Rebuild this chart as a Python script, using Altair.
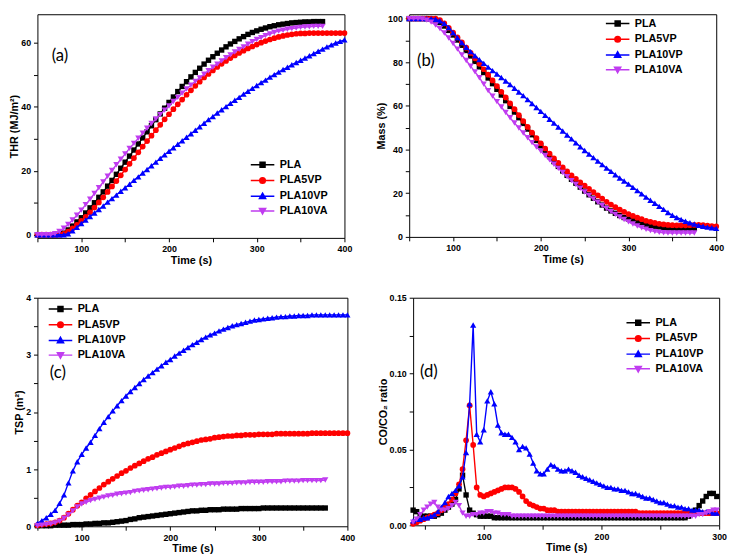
import altair as alt
import pandas as pd

SERIES = ["PLA", "PLA5VP", "PLA10VP", "PLA10VA"]
COLORS = ["#000000", "#FF0000", "#0000FF", "#C03CF0"]
SHAPES = ["square", "circle", "triangle-up", "triangle-down"]
SIZES = [30, 34, 40, 40]
LINE = "M-4,0L4,0"
LEG_PATHS = [
    LINE + "M-0.85,-0.85L0.85,-0.85L0.85,0.85L-0.85,0.85Z",
    LINE + "M-0.95,0A0.95,0.95 0 1,0 0.95,0A0.95,0.95 0 1,0 -0.95,0Z",
    LINE + "M0,-1.05L1.05,0.8L-1.05,0.8Z",
    LINE + "M0,1.05L1.05,-0.8L-1.05,-0.8Z",
]
FONT = "Liberation Sans"

# ---------------- (a) THR, t = 50, 55, ... ----------------
thr_pla = [0, 0, 0, 0, 0, 0.1, 0.5, 1.5, 2.7, 4.0,
           5.3, 6.8, 8.4, 10.0, 11.7, 13.4, 15.2, 17.0, 18.9, 20.8,
           22.7, 24.6, 26.5, 28.4, 30.3, 32.2, 34.1, 36.0, 37.8, 39.6,
           41.4, 43.1, 44.8, 46.4, 47.9, 49.4, 50.8, 52.1, 53.4, 54.6,
           55.7, 56.8, 57.8, 58.8, 59.7, 60.5, 61.3, 62.0, 62.7, 63.3,
           63.8, 64.3, 64.7, 65.1, 65.4, 65.7, 65.9, 66.1, 66.3, 66.4,
           66.5, 66.6, 66.6, 66.7, 66.7, 66.7]
thr_5vp = [0, 0, 0, 0, 0, 0, 0.3, 1.0, 2.0, 3.1,
           4.3, 5.6, 7.0, 8.5, 10.1, 11.7, 13.4, 15.1, 16.8, 18.6,
           20.4, 22.2, 24.0, 25.8, 27.6, 29.3, 31.0, 32.7, 34.4, 36.1,
           37.7, 39.3, 40.8, 42.3, 43.8, 45.2, 46.6, 47.9, 49.2, 50.3,
           51.4, 52.5, 53.5, 54.4, 55.3, 56.1, 56.9, 57.6, 58.3, 58.9,
           59.5, 60.1, 60.6, 61.1, 61.5, 61.9, 62.2, 62.5, 62.7, 62.9,
           63.0, 63.0, 63.1, 63.1, 63.1, 63.1, 63.1, 63.1, 63.1, 63.1, 63.1]
thr_10vp = [0, 0, 0, 0, 0, 0, 0, 0.3, 1.2, 2.3,
            3.5, 4.6, 5.7, 6.8, 7.9, 9.0, 10.2, 11.3, 12.4, 13.6,
            14.7, 15.8, 17.0, 18.1, 19.3, 20.4, 21.6, 22.7, 23.9, 25.0,
            26.1, 27.2, 28.3, 29.4, 30.5, 31.6, 32.7, 33.8, 34.9, 36.0,
            37.0, 38.1, 39.1, 40.1, 41.1, 42.1, 43.0, 44.0, 44.9, 45.8,
            46.7, 47.6, 48.4, 49.3, 50.1, 50.9, 51.7, 52.4, 53.2, 53.9,
            54.6, 55.3, 56.0, 56.7, 57.4, 58.1, 58.8, 59.4, 60.0, 60.5, 61.0]
thr_10va = [0, 0, 0, 0, 0.3, 1.0, 2.0, 3.2, 4.6, 6.1,
            7.7, 9.4, 11.1, 12.9, 14.7, 16.5, 18.3, 20.1, 21.9, 23.6,
            25.3, 27.0, 28.6, 30.2, 31.8, 33.3, 34.8, 36.2, 37.6, 39.0,
            40.3, 41.7, 43.0, 44.3, 45.6, 46.8, 48.0, 49.1, 50.2, 51.3,
            52.4, 53.4, 54.4, 55.4, 56.3, 57.2, 58.0, 58.8, 59.6, 60.4,
            61.1, 61.7, 62.3, 62.8, 63.3, 63.7, 64.0, 64.3, 64.5, 64.7,
            64.9, 65.0, 65.1, 65.2, 65.2, 65.2]

# ---------------- (b) Mass, t = 50, 55, ... ----------------
mass_pla = [100, 100, 100, 100, 100, 99.8, 99.3, 98.2, 96.6, 94.6,
            92.5, 90.2, 87.8, 85.4, 82.9, 80.4, 77.9, 75.3, 72.8, 70.2,
            67.6, 65.0, 62.4, 59.8, 57.2, 54.6, 52.0, 49.4, 46.8, 44.2,
            41.7, 39.2, 36.8, 34.5, 32.3, 30.2, 28.2, 26.4, 24.6, 22.8,
            21.0, 19.3, 17.7, 16.1, 14.6, 13.2, 11.9, 10.8, 9.8, 8.9,
            8.2, 7.5, 6.9, 6.3, 5.8, 5.3, 4.9, 4.6, 4.3, 4.1,
            4.0, 3.9, 3.9, 3.9, 3.9, 3.9]
mass_5vp = [100, 100, 100, 100, 100, 100, 100, 99.3, 97.8, 95.8,
            93.6, 91.4, 89.1, 86.7, 84.3, 81.8, 79.3, 76.8, 74.3, 71.7,
            69.1, 66.5, 63.9, 61.2, 58.5, 55.8, 53.1, 50.4, 47.8, 45.3,
            42.9, 40.5, 38.2, 36.0, 33.9, 31.9, 30.0, 28.2, 26.6, 25.0,
            23.5, 22.0, 20.5, 19.0, 17.5, 16.1, 14.8, 13.6, 12.5, 11.5,
            10.5, 9.6, 8.8, 8.1, 7.4, 6.9, 6.4, 6.0, 5.7, 5.5,
            5.4, 5.3, 5.3, 5.3, 5.4, 5.5, 5.5, 5.4, 5.2, 5.0, 4.8]
mass_10vp = [100, 100, 100, 100, 100, 100, 99.7, 99.0, 97.8, 95.9,
             93.6, 91.3, 89.0, 86.9, 84.9, 83.0, 81.2, 79.5, 77.8, 76.2,
             74.6, 73.0, 71.4, 69.8, 68.1, 66.4, 64.7, 62.9, 61.1, 59.3,
             57.5, 55.7, 53.9, 52.1, 50.3, 48.5, 46.7, 44.9, 43.1, 41.3,
             39.6, 37.9, 36.3, 34.7, 33.1, 31.5, 30.0, 28.5, 27.0, 25.6,
             24.2, 22.7, 21.2, 19.7, 18.2, 16.8, 15.4, 14.0, 12.6, 11.2,
             9.9, 8.9, 8.0, 7.2, 6.5, 5.9, 5.3, 4.9, 4.5, 4.2, 3.9]
mass_10va = [100, 100, 100, 99.8, 99.3, 98.4, 97.1, 95.4, 93.4, 91.1,
             88.6, 86.0, 83.4, 80.8, 78.2, 75.6, 72.9, 70.0, 67.0, 64.5,
             62.0, 59.5, 57.0, 54.6, 52.2, 49.9, 47.6, 45.4, 43.2, 41.2,
             39.3, 37.3, 35.3, 33.3, 31.4, 29.5, 27.6, 25.8, 24.0, 22.3,
             20.6, 19.0, 17.4, 15.9, 14.4, 13.0, 11.6, 10.3, 9.1, 8.0,
             6.9, 5.9, 5.0, 4.2, 3.5, 2.9, 2.4, 2.1, 1.9, 1.8,
             1.8, 1.8, 1.8, 1.8, 1.8, 1.8]

# ---------------- (c) TSP, t = 50, 55, ... ----------------
tsp_pla = [0.01, 0.01, 0.01, 0.01, 0.02, 0.02, 0.02, 0.02, 0.03, 0.03,
           0.03, 0.04, 0.04, 0.05, 0.05, 0.06, 0.06, 0.07, 0.08, 0.09,
           0.10, 0.12, 0.13, 0.15, 0.16, 0.17, 0.18, 0.19, 0.20, 0.21,
           0.22, 0.23, 0.24, 0.25, 0.26, 0.27, 0.27, 0.28, 0.28, 0.29,
           0.29, 0.29, 0.30, 0.30, 0.30, 0.30, 0.31, 0.31, 0.31, 0.31,
           0.31, 0.32, 0.32, 0.32, 0.32, 0.32, 0.32, 0.32, 0.32, 0.32,
           0.32, 0.32, 0.32, 0.32, 0.32, 0.32]
tsp_5vp = [0.02, 0.03, 0.04, 0.05, 0.07, 0.10, 0.15, 0.22, 0.29, 0.36,
           0.42, 0.49, 0.55, 0.61, 0.67, 0.73, 0.78, 0.83, 0.88, 0.93,
           0.97, 1.02, 1.06, 1.10, 1.14, 1.18, 1.21, 1.25, 1.28, 1.31,
           1.34, 1.37, 1.40, 1.43, 1.45, 1.47, 1.49, 1.51, 1.52, 1.53,
           1.55, 1.56, 1.57, 1.58, 1.58, 1.59, 1.59, 1.60, 1.60, 1.60,
           1.61, 1.61, 1.61, 1.61, 1.62, 1.62, 1.62, 1.62, 1.62, 1.62,
           1.62, 1.62, 1.63, 1.63, 1.63, 1.63, 1.63, 1.63, 1.63, 1.63, 1.63]
tsp_10vp = [0.05, 0.10, 0.15, 0.21, 0.28, 0.40, 0.55, 0.76, 0.97, 1.13,
            1.26, 1.37, 1.47, 1.59, 1.71, 1.82, 1.92, 2.02, 2.11, 2.20,
            2.28, 2.36, 2.43, 2.50, 2.57, 2.63, 2.69, 2.75, 2.81, 2.87,
            2.92, 2.98, 3.03, 3.08, 3.13, 3.18, 3.22, 3.27, 3.31, 3.35,
            3.38, 3.42, 3.45, 3.48, 3.51, 3.53, 3.55, 3.57, 3.59, 3.61,
            3.62, 3.63, 3.64, 3.65, 3.66, 3.67, 3.67, 3.68, 3.68, 3.69,
            3.69, 3.69, 3.70, 3.70, 3.70, 3.70, 3.70, 3.70, 3.70, 3.70, 3.70]
tsp_10va = [0.01, 0.02, 0.03, 0.04, 0.06, 0.09, 0.14, 0.20, 0.27, 0.34,
            0.39, 0.42, 0.45, 0.47, 0.49, 0.51, 0.53, 0.54, 0.56, 0.57,
            0.58, 0.59, 0.61, 0.62, 0.63, 0.64, 0.65, 0.66, 0.67, 0.68,
            0.68, 0.69, 0.70, 0.70, 0.71, 0.72, 0.72, 0.73, 0.73, 0.74,
            0.74, 0.74, 0.75, 0.75, 0.75, 0.76, 0.76, 0.76, 0.77, 0.77,
            0.77, 0.77, 0.78, 0.78, 0.78, 0.78, 0.79, 0.79, 0.79, 0.79,
            0.80, 0.80, 0.80, 0.80, 0.80, 0.81]

# ---------------- (d) CO/CO2 ratio, t = 40, 43, ... ----------------
co_pla = [0.010, 0.009, 0.007, 0.006, 0.006, 0.006, 0.006, 0.007, 0.008, 0.010,
          0.012, 0.014, 0.017, 0.024, 0.033, 0.020, 0.010, 0.008, 0.007, 0.006,
          0.006, 0.006, 0.006, 0.005, 0.005, 0.005, 0.005, 0.005, 0.005, 0.005,
          0.005, 0.005, 0.005, 0.005, 0.005, 0.005, 0.005, 0.005, 0.005, 0.005,
          0.005, 0.005, 0.005, 0.005, 0.005, 0.005, 0.005, 0.005, 0.005, 0.005,
          0.005, 0.005, 0.005, 0.005, 0.005, 0.005, 0.005, 0.005, 0.005, 0.005,
          0.005, 0.005, 0.005, 0.005, 0.005, 0.005, 0.005, 0.005, 0.005, 0.005,
          0.005, 0.005, 0.005, 0.005, 0.005, 0.005, 0.005, 0.005, 0.006, 0.008,
          0.010, 0.013, 0.016, 0.019, 0.021, 0.021, 0.019]
co_5vp = [0.001, 0.002, 0.003, 0.004, 0.005, 0.006, 0.007, 0.008, 0.010, 0.012,
          0.014, 0.017, 0.021, 0.027, 0.037, 0.056, 0.079, 0.053, 0.025, 0.020,
          0.019, 0.020, 0.021, 0.022, 0.023, 0.024, 0.025, 0.025, 0.025, 0.024,
          0.022, 0.019, 0.016, 0.014, 0.013, 0.012, 0.011, 0.011, 0.010, 0.010,
          0.010, 0.009, 0.009, 0.009, 0.009, 0.009, 0.009, 0.009, 0.009, 0.009,
          0.009, 0.009, 0.009, 0.009, 0.009, 0.009, 0.009, 0.009, 0.009, 0.009,
          0.009, 0.009, 0.009, 0.009, 0.008, 0.008, 0.008, 0.008, 0.008, 0.008,
          0.008, 0.008, 0.008, 0.008, 0.008, 0.008, 0.008, 0.008, 0.008, 0.008,
          0.008, 0.008, 0.008, 0.008, 0.008, 0.008, 0.008]
co_10vp = [0.003, 0.004, 0.004, 0.005, 0.005, 0.006, 0.007, 0.009, 0.012, 0.015,
           0.019, 0.021, 0.023, 0.026, 0.032, 0.048, 0.080, 0.132, 0.060, 0.055,
           0.063, 0.082, 0.088, 0.080, 0.066, 0.061, 0.060, 0.060, 0.058, 0.055,
           0.050, 0.052, 0.051, 0.047, 0.041, 0.036, 0.034, 0.034, 0.037, 0.040,
           0.039, 0.037, 0.036, 0.036, 0.037, 0.036, 0.035, 0.033, 0.032, 0.031,
           0.030, 0.029, 0.028, 0.027, 0.026, 0.025, 0.025, 0.024, 0.024, 0.023,
           0.023, 0.022, 0.021, 0.021, 0.020, 0.019, 0.018, 0.018, 0.017, 0.016,
           0.015, 0.015, 0.014, 0.013, 0.013, 0.012, 0.012, 0.011, 0.011, 0.010,
           0.010, 0.010, 0.009, 0.009, 0.009, 0.008, 0.008]
co_10va = [0.002, 0.004, 0.007, 0.010, 0.012, 0.014, 0.015, 0.012, 0.010, 0.010,
           0.011, 0.013, 0.015, 0.013, 0.008, 0.006, 0.006, 0.007, 0.007, 0.008,
           0.008, 0.009, 0.009, 0.008, 0.008, 0.007, 0.007, 0.007, 0.006, 0.006,
           0.006, 0.006, 0.006, 0.006, 0.006, 0.006, 0.006, 0.006, 0.006, 0.006,
           0.006, 0.006, 0.006, 0.006, 0.006, 0.006, 0.006, 0.006, 0.006, 0.006,
           0.006, 0.006, 0.006, 0.006, 0.006, 0.006, 0.006, 0.006, 0.006, 0.006,
           0.006, 0.006, 0.006, 0.006, 0.006, 0.006, 0.006, 0.006, 0.006, 0.006,
           0.006, 0.006, 0.006, 0.006, 0.006, 0.006, 0.006, 0.006, 0.006, 0.006,
           0.006, 0.007, 0.007, 0.008, 0.009, 0.010, 0.010]


def long_table(start, step, arrays):
    rows = []
    for name, vals in zip(SERIES, arrays):
        for i, v in enumerate(vals):
            rows.append({"t": start + i * step, "v": v, "series": name})
    return pd.DataFrame(rows)


def panel(df, xdom, xticks, ydom, yticks, ylabel_expr, ytitle, w, h,
          tag, tag_t, tag_v, leg_x, leg_y):
    xax = alt.Axis(title="Time (s)", values=xticks,
                   labelExpr="datum.value % 100 == 0 ? datum.label : ''")
    yax = alt.Axis(title=ytitle, values=yticks, labelExpr=ylabel_expr)
    x = alt.X("t:Q", scale=alt.Scale(domain=xdom, nice=False, zero=False), axis=xax)
    y = alt.Y("v:Q", scale=alt.Scale(domain=ydom, nice=False, zero=False), axis=yax)
    base = alt.Chart(df)
    layers = []
    for s, c, sh, sz in zip(SERIES, COLORS, SHAPES, SIZES):
        sub = base.transform_filter(alt.datum.series == s)
        layers.append(sub.mark_line(color=c, strokeWidth=1.4).encode(x=x, y=y))
        layers.append(sub.mark_point(shape=sh, filled=True, color=c, size=sz,
                                     opacity=1).encode(x=x, y=y))
    leg = alt.Legend(title=None, orient="none", legendX=leg_x, legendY=leg_y,
                     labelFont=FONT, labelFontSize=11, labelFontWeight="bold",
                     labelColor="black", symbolSize=36, symbolStrokeWidth=1.5,
                     symbolOpacity=1, labelOffset=12, rowPadding=3, padding=0)
    legdf = pd.DataFrame({"leg": SERIES})
    layers.append(
        alt.Chart(legdf).mark_point(filled=True, size=0, strokeWidth=1.5, opacity=1).encode(
            shape=alt.Shape("leg:N", scale=alt.Scale(domain=SERIES, range=LEG_PATHS), legend=leg),
            fill=alt.Fill("leg:N", scale=alt.Scale(domain=SERIES, range=COLORS), legend=leg),
            stroke=alt.Stroke("leg:N", scale=alt.Scale(domain=SERIES, range=COLORS), legend=leg),
        )
    )
    tagdf = pd.DataFrame({"t": [tag_t], "v": [tag_v], "lab": [tag]})
    layers.append(
        alt.Chart(tagdf).mark_text(font="Lato", fontSize=17, color="black").encode(
            x=x, y=y, text="lab:N")
    )
    return alt.layer(*layers).properties(width=w, height=h)


tA = long_table(50, 5, [thr_pla, thr_5vp, thr_10vp, thr_10va])
tB = long_table(50, 5, [mass_pla, mass_5vp, mass_10vp, mass_10va])
tC = long_table(50, 5, [tsp_pla, tsp_5vp, tsp_10vp, tsp_10va])
tD = long_table(40, 3, [co_pla, co_5vp, co_10vp, co_10va])

xt = [50, 100, 150, 200, 250, 300, 350, 400]
pa = panel(tA, [50, 400], xt, [-1, 69], [0, 10, 20, 30, 40, 50, 60],
           "datum.value % 20 == 0 ? datum.label : ''", "THR (MJ/m²)", 313, 228,
           "(a)", 75.7, 56, 224, 148)
pb = panel(tB, [50, 400], xt, [0, 102], [0, 10, 20, 30, 40, 50, 60, 70, 80, 90, 100],
           "datum.value % 20 == 0 ? datum.label : ''", "Mass (%)", 313, 227,
           "(b)", 69, 80.5, 207, 4)
pc = panel(tC, [50, 400], xt, [0, 4], [0, 0.5, 1, 1.5, 2, 2.5, 3, 3.5, 4],
           "datum.value % 1 == 0 ? format(datum.value, 'd') : ''", "TSP (m²)", 316, 233,
           "(c)", 73, 2.68, 18, 6)
pd_ = panel(tD, [40, 300], [50, 100, 150, 200, 250, 300], [0, 0.15],
            [0, 0.025, 0.05, 0.075, 0.1, 0.125, 0.15],
            "round(datum.value * 1000) % 50 == 0 ? format(datum.value, '.2f') : ''",
            "CO/CO₂ ratio", 312, 232, "(d)", 53.3, 0.101, 224, 20)

ind = dict(fill="independent", stroke="independent", shape="independent")
row1 = alt.hconcat(pa, pb, spacing=22).resolve_legend(**ind)
row2 = alt.hconcat(pc, pd_, spacing=20).resolve_legend(**ind)
chart = (
    alt.vconcat(row1, row2, spacing=27)
    .resolve_legend(**ind)
    .properties(padding=0, background="white")
    .configure_view(stroke="black", strokeWidth=1)
    .configure_axis(
        labelFont=FONT, labelFontSize=9, labelFontWeight="bold", labelColor="black",
        titleFont=FONT, titleFontSize=11, titleFontWeight="bold", titleColor="black",
        tickColor="black", tickSize=4, tickWidth=1, domain=False, grid=False,
        labelFlush=False, labelPadding=3, titlePadding=1, labelOverlap=False,
    )
)
chart.save("out.html", embed_options={"renderer": "svg", "actions": False})
